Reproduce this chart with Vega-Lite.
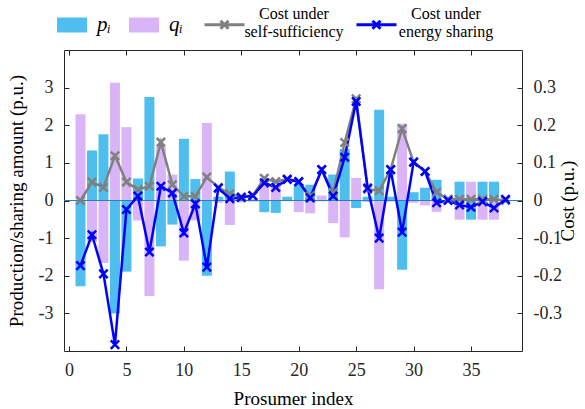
{
  "$schema": "https://vega.github.io/schema/vega-lite/v6.json",
  "width": 458,
  "height": 301,
  "autosize": {"type": "none"},
  "padding": {"left": 64, "top": 50, "right": 63, "bottom": 58},
  "config": {
    "view": {"stroke": "#262626", "strokeWidth": 1},
    "font": "Liberation Serif",
    "axis": {
      "labelFont": "Liberation Serif",
      "titleFont": "Liberation Serif",
      "labelFontSize": 18,
      "titleFontSize": 19,
      "titleFontWeight": "normal",
      "labelColor": "#262626",
      "titleColor": "#000000",
      "grid": false,
      "domain": false,
      "tickColor": "#262626",
      "tickSize": -5
    },
    "legend": {"labelFont": "Liberation Serif", "labelColor": "#000000"}
  },
  "data": {
    "values": [
      {"i": 1, "p": -2.28, "q": 2.29, "c1": 0.0, "c2": -0.173},
      {"i": 2, "p": 1.33, "q": -1.1, "c1": 0.049, "c2": -0.091},
      {"i": 3, "p": 1.76, "q": -1.66, "c1": 0.035, "c2": -0.195},
      {"i": 4, "p": -3.0, "q": 3.13, "c1": 0.119, "c2": -0.383},
      {"i": 5, "p": -1.89, "q": 1.95, "c1": 0.049, "c2": -0.024},
      {"i": 6, "p": 0.585, "q": -0.53, "c1": 0.029, "c2": 0.012},
      {"i": 7, "p": 2.75, "q": -2.54, "c1": 0.038, "c2": -0.137},
      {"i": 8, "p": -1.22, "q": 1.42, "c1": 0.155, "c2": 0.038},
      {"i": 9, "p": -0.64, "q": 0.69, "c1": 0.042, "c2": 0.02},
      {"i": 10, "p": 1.64, "q": -1.6, "c1": 0.011, "c2": -0.086},
      {"i": 11, "p": 0.57, "q": -0.53, "c1": 0.011, "c2": -0.009},
      {"i": 12, "p": -2.0, "q": 2.06, "c1": 0.062, "c2": -0.177},
      {"i": 13, "p": 0.1, "q": -0.06, "c1": 0.035, "c2": 0.033},
      {"i": 14, "p": 0.77, "q": -0.65, "c1": 0.018, "c2": 0.005},
      {"i": 15, "p": 0.04, "q": -0.05, "c1": 0.01, "c2": 0.008},
      {"i": 16, "p": 0.03, "q": -0.03, "c1": 0.013, "c2": 0.013},
      {"i": 17, "p": -0.31, "q": 0.45, "c1": 0.059, "c2": 0.047},
      {"i": 18, "p": -0.33, "q": 0.42, "c1": 0.05, "c2": 0.035},
      {"i": 19, "p": 0.1, "q": -0.02, "c1": 0.057, "c2": 0.056},
      {"i": 20, "p": 0.44, "q": -0.31, "c1": 0.05, "c2": 0.05},
      {"i": 21, "p": 0.42, "q": -0.34, "c1": 0.012, "c2": 0.007},
      {"i": 22, "p": -0.02, "q": 0.13, "c1": 0.082, "c2": 0.082},
      {"i": 23, "p": 0.69, "q": -0.6, "c1": 0.022, "c2": 0.012},
      {"i": 24, "p": 1.37, "q": -0.98, "c1": 0.154, "c2": 0.115},
      {"i": 25, "p": -0.2, "q": 0.6, "c1": 0.27, "c2": 0.263},
      {"i": 26, "p": 0.1, "q": -0.04, "c1": 0.03, "c2": 0.033},
      {"i": 27, "p": 2.41, "q": -2.36, "c1": 0.026, "c2": -0.1},
      {"i": 28, "p": 0.1, "q": -0.03, "c1": 0.082, "c2": 0.082},
      {"i": 29, "p": -1.84, "q": 2.04, "c1": 0.191, "c2": -0.084},
      {"i": 30, "p": 0.22, "q": -0.06, "c1": 0.102, "c2": 0.102},
      {"i": 31, "p": 0.34, "q": -0.13, "c1": 0.077, "c2": 0.077},
      {"i": 32, "p": 0.55, "q": -0.3, "c1": 0.022, "c2": -0.006},
      {"i": 33, "p": 0.0, "q": 0.0, "c1": 0.004, "c2": 0.0},
      {"i": 34, "p": 0.5, "q": -0.51, "c1": 0.003, "c2": -0.012},
      {"i": 35, "p": -0.51, "q": 0.5, "c1": 0.003, "c2": -0.018},
      {"i": 36, "p": 0.5, "q": -0.51, "c1": 0.003, "c2": -0.003},
      {"i": 37, "p": 0.5, "q": -0.51, "c1": 0.003, "c2": -0.02},
      {"i": 38, "p": 0.0, "q": 0.0, "c1": 0.0, "c2": 0.003}
    ]
  },
  "layer": [
    {
      "layer": [
        {
          "transform": [{"fold": ["p", "q"], "as": ["series", "value"]}],
          "mark": {"type": "bar", "size": 10, "opacity": 1},
          "encoding": {
            "x": {
              "field": "i",
              "type": "quantitative",
              "scale": {"domain": [0, 39], "nice": false},
              "axis": {"values": [0, 5, 10, 15, 20, 25, 30, 35], "title": "Prosumer index", "labelFont": "Liberation Serif", "labelFontSize": 18, "labelPadding": 15, "titlePadding": 10}
            },
            "y": {
              "field": "value",
              "type": "quantitative",
              "stack": null,
              "scale": {"domain": [-4, 4], "nice": false},
              "axis": {"values": [-3, -2, -1, 0, 1, 2, 3], "title": "Production/sharing amount  (p.u.)", "labelFont": "Liberation Serif", "labelFontSize": 18, "labelExpr": "datum.value + ''", "labelPadding": 16, "titlePadding": 12}
            },
            "color": {
              "field": "series",
              "type": "nominal",
              "scale": {"domain": ["p", "q"], "range": ["#4DBEEE", "#D9B5F7"]},
              "legend": {
                "orient": "none",
                "legendX": -7,
                "legendY": -40,
                "direction": "horizontal",
                "title": null,
                "symbolType": "M-1,-0.5L1,-0.5L1,0.5L-1,0.5Z",
                "symbolSize": 900,
                "symbolStrokeWidth": 0,
                "symbolOpacity": 1,
                "labelFontSize": 21,
                "labelFontStyle": "italic",
                "labelExpr": "datum.label == 'p' ? 'pᵢ' : 'qᵢ'",
                "labelOffset": 10,
                "columnPadding": 18
              }
            }
          }
        },
        {
          "mark": {"type": "rule", "color": "#2c7fb8", "strokeWidth": 1},
          "encoding": {"y": {"datum": 0}}
        }
      ]
    },
    {
      "transform": [{"fold": ["c1", "c2"], "as": ["series2", "cost"]}],
      "layer": [
        {
          "mark": {"type": "line", "strokeWidth": 2.5},
          "encoding": {
            "x": {
              "field": "i",
              "type": "quantitative",
              "axis": {"orient": "top", "labels": false, "title": null, "values": [0, 5, 10, 15, 20, 25, 30, 35]}
            },
            "y": {
              "field": "cost",
              "type": "quantitative",
              "scale": {"domain": [-0.4, 0.4], "nice": false},
              "axis": {"orient": "right", "values": [-0.3, -0.2, -0.1, 0, 0.1, 0.2, 0.3], "title": "Cost (p.u.)", "titleAngle": 270, "labelFont": "Liberation Serif", "labelFontSize": 18, "labelExpr": "datum.value + ''", "labelPadding": 16, "titlePadding": 16}
            },
            "stroke": {
              "field": "series2",
              "type": "nominal",
              "scale": {"domain": ["c1", "c2"], "range": ["#808080", "#0000FF"]},
              "legend": {
                "orient": "none",
                "legendX": 139,
                "legendY": -58,
                "direction": "horizontal",
                "title": null,
                "symbolType": "M-1,0.55L1,0.55M-0.2,0.35L0.2,0.75M-0.2,0.75L0.2,0.35",
                "symbolSize": 1600,
                "symbolStrokeWidth": 3,
                "labelFontSize": 16,
                "labelAlign": "center",
                "labelOffset": 48,
                "labelExpr": "datum.label == 'c1' ? ['Cost under', 'self-sufficiency'] : ['Cost under', 'energy sharing']",
                "columnPadding": 6
              }
            }
          }
        },
        {
          "mark": {"type": "point", "shape": "M-1,-1L1,1M-1,1L1,-1", "filled": false, "size": 70, "strokeWidth": 2.5, "opacity": 1},
          "encoding": {
            "x": {"field": "i", "type": "quantitative"},
            "y": {"field": "cost", "type": "quantitative"},
            "order": {"field": "series2"},
            "stroke": {"field": "series2", "type": "nominal", "legend": null}
          }
        }
      ]
    }
  ],
  "resolve": {"scale": {"y": "independent"}, "axis": {"x": "independent"}}
}
